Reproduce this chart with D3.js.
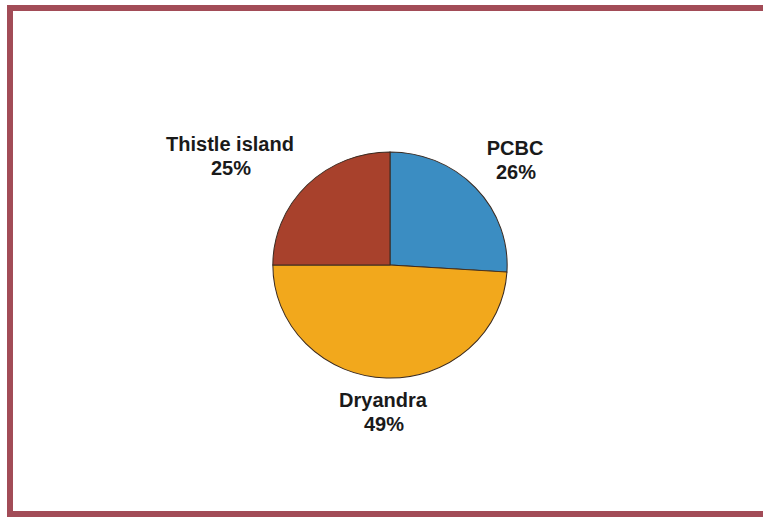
<!DOCTYPE html>
<html><head><meta charset="utf-8">
<script src="https://cdn.jsdelivr.net/npm/d3@7"></script>
<style>html,body{margin:0;padding:0;background:#fff;overflow:hidden;}svg{display:block;}</style>
</head><body>
<svg id="chart" width="763" height="519"></svg>
<script>
const categories = ["PCBC", "Dryandra", "Thistle island"];
const values = [26, 49, 25];
const labels = ["26%", "49%", "25%"];
const colors = ["#3b8dc2", "#f2a81c", "#a8412c"];

const svg = d3.select("#chart");
const W = 763, H = 519;
svg.append("rect").attr("width", W).attr("height", H).attr("fill", "#fff");
// frame: top, left, bottom (right edge cut off in the original)
svg.append("path").attr("d", `M${W+5},8 L10,8 L10,514 L${W+5},514`)
  .attr("fill", "none").attr("stroke", "#a24c57").attr("stroke-width", 6);

const cx = 390, cy = 265, r = 116;
const pie = d3.pie().sort(null).value(d => d.v);
const data = categories.map((c, i) => ({c, v: values[i], l: labels[i], col: colors[i]}));
const arcs = pie(data);
const arc = d3.arc().innerRadius(0).outerRadius(r);
const g = svg.append("g").attr("transform", `translate(${cx},${cy}) scale(1.01,0.975)`);
g.selectAll("path").data(arcs).enter().append("path")
  .attr("d", arc).attr("fill", d => d.data.col)
  .attr("stroke", "#3a2a20").attr("stroke-width", 1);

const labelPos = {
  "PCBC": [515, 155],
  "Dryandra": [383, 407],
  "Thistle island": [230, 151]
};
const lg = svg.append("g").attr("font-family", "'Liberation Sans', Arial, sans-serif")
  .attr("font-weight", "bold").attr("font-size", 20).attr("fill", "#1a1a1a")
  .attr("text-anchor", "middle");
arcs.forEach(a => {
  const [x, y] = labelPos[a.data.c];
  const t = lg.append("text").attr("x", x).attr("y", y);
  t.append("tspan").attr("x", x).text(a.data.c);
  t.append("tspan").attr("x", x + 1).attr("dy", 24).text(a.data.l);
});
</script>
</body></html>
